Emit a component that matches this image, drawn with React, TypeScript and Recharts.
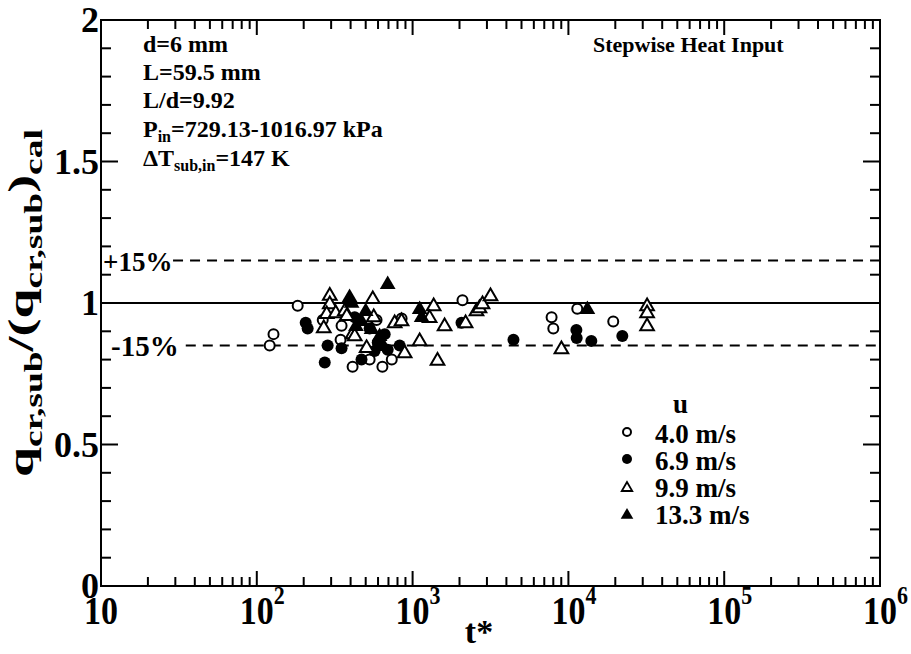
import React from "react";
import {
  ScatterChart,
  Scatter,
  XAxis,
  YAxis,
  ReferenceLine,
  ReferenceArea,
} from "recharts";

// t* values and q ratio for each velocity
const t40 = [121, 128, 183, 265, 350, 345, 412, 530, 640, 735, 587, 850, 2090, 7800, 8000, 11400, 19400];
const q40 = [0.85, 0.89, 0.99, 0.94, 0.92, 0.87, 0.775, 0.8, 0.775, 0.8, 0.94, 0.945, 1.01, 0.95, 0.91, 0.98, 0.935];

const t69 = [206, 212, 285, 350, 273, 470, 425, 530, 597, 570, 662, 692, 826, 2060, 4440, 11250, 11300, 14030, 22180];
const q69 = [0.93, 0.91, 0.85, 0.84, 0.79, 0.8, 0.95, 0.91, 0.86, 0.83, 0.89, 0.835, 0.85, 0.93, 0.87, 0.905, 0.876, 0.866, 0.883];

const t99 = [294, 294, 281, 321, 269, 367, 412, 555, 563, 378, 425, 507, 767, 849, 889, 1110, 1365, 1286, 1445, 1604, 2188, 2570, 2686, 2810, 3162, 9020, 32000, 32000, 32000];
const q99 = [1.03, 1.0, 0.965, 0.968, 0.915, 0.975, 0.894, 1.018, 0.954, 0.958, 0.887, 0.845, 0.933, 0.94, 0.827, 0.869, 0.993, 0.951, 0.8, 0.922, 0.933, 0.975, 0.986, 1.0, 1.028, 0.841, 0.993, 0.968, 0.922];

const t133 = [394, 406, 692, 1110, 1143, 13240, 469, 545, 614, 500, 650, 433];
const q133 = [1.025, 1.004, 1.071, 0.982, 0.954, 0.982, 0.94, 0.912, 0.887, 0.975, 0.852, 0.922];

const decades = [10, 100, 1000, 10000, 100000, 1000000];
const decadeExp = ["", "2", "3", "4", "5", "6"];
const minorSteps = [2, 3, 4, 5, 6, 7, 8, 9];
const yTicks = [0, 0.1, 0.2, 0.3, 0.4, 0.5, 0.6, 0.7, 0.8, 0.9, 1, 1.1, 1.2, 1.3, 1.4, 1.5, 1.6, 1.7, 1.8, 1.9, 2];
const yMajor = [0, 0.5, 1, 1.5, 2];
const yLabels = ["0", "0.5", "1", "1.5", "2"];
const legendItems = ["4.0 m/s", "6.9 m/s", "9.9 m/s", "13.3 m/s"];

const xTicks: number[] = [];
decades.forEach((d, i) => {
  xTicks.push(d);
  if (i < decades.length - 1) minorSteps.forEach((m) => xTicks.push(d * m));
});

const zip = (t: number[], q: number[]) => t.map((v, i) => ({ t: v, q: q[i] }));
const d40 = zip(t40, q40);
const d69 = zip(t69, q69);
const d99 = zip(t99, q99);
const d133 = zip(t133, q133);

const W = 911;
const H = 654;
const LEFT = 101;
const RIGHT = 880;
const TOP = 20;
const BOTTOM = 586;
const PW = RIGHT - LEFT;
const PH = BOTTOM - TOP;
const FONT = "'Liberation Serif', 'Times New Roman', serif";

const OpenCircle = (p: any) => (
  <circle cx={p.cx} cy={p.cy} r={5} fill="#fff" stroke="#000" strokeWidth={2} />
);
const FilledCircle = (p: any) => <circle cx={p.cx} cy={p.cy} r={6} fill="#000" />;
const tri = (cx: number, cy: number, s: number) =>
  `${cx},${cy - s} ${cx - s * 1.05},${cy + s * 0.8} ${cx + s * 1.05},${cy + s * 0.8}`;
const OpenTri = (p: any) => (
  <polygon points={tri(p.cx, p.cy, 6.5)} fill="#fff" stroke="#000" strokeWidth={2} strokeLinejoin="miter" />
);
const FilledTri = (p: any) => <polygon points={tri(p.cx, p.cy, 7.5)} fill="#000" />;

const XTick = (props: any) => {
  const { x, y, payload } = props;
  const v = payload.value;
  const idx = decades.findIndex((d) => Math.abs(d - v) < 1e-6 * d);
  const major = idx >= 0;
  const len = major ? 15 : 9;
  return (
    <g>
      <line x1={x} y1={y} x2={x} y2={y - len} stroke="#000" strokeWidth={2} />
      <line x1={x} y1={y - PH} x2={x} y2={y - PH + len} stroke="#000" strokeWidth={2} />
      {major && (
        <g transform={`translate(${x},${y + 38}) scale(1,1.15)`}>
          <text x={0} y={0} textAnchor="middle" fontFamily={FONT} fontWeight="bold" fontSize={34} fill="#000">
            10
          </text>
          {decadeExp[idx] && (
            <text x={17} y={-17} fontFamily={FONT} fontWeight="bold" fontSize={22} fill="#000">
              {decadeExp[idx]}
            </text>
          )}
        </g>
      )}
    </g>
  );
};

const YTick = (props: any) => {
  const { x, y, payload } = props;
  const v = payload.value;
  const idx = yMajor.findIndex((m) => Math.abs(m - v) < 1e-6);
  const major = idx >= 0;
  const len = major ? 17 : 10;
  return (
    <g>
      <line x1={x} y1={y} x2={x + len} y2={y} stroke="#000" strokeWidth={2} />
      <line x1={x + PW} y1={y} x2={x + PW - len} y2={y} stroke="#000" strokeWidth={2} />
      {major && (
        <text x={x - 2} y={y + 12} textAnchor="end" fontFamily={FONT} fontWeight="bold" fontSize={36} fill="#000">
          {yLabels[idx]}
        </text>
      )}
    </g>
  );
};

const txt = { fontFamily: FONT, fontWeight: "bold" as const, fill: "#000" };

export default function App() {
  return (
    <div style={{ position: "absolute", left: 0, top: 0, width: W, height: H, background: "#fff" }}>
      <ScatterChart
        width={W}
        height={H}
        margin={{ top: TOP, right: W - RIGHT, bottom: 8, left: LEFT - 60 }}
      >
        <XAxis
          dataKey="t"
          type="number"
          scale="log"
          domain={[10, 1000000]}
          allowDataOverflow
          ticks={xTicks}
          interval={0}
          tick={<XTick />}
          tickLine={false}
          tickSize={0}
          tickMargin={0}
          height={H - 8 - BOTTOM}
          axisLine={{ stroke: "#000", strokeWidth: 2 }}
        />
        <YAxis
          dataKey="q"
          type="number"
          domain={[0, 2]}
          allowDataOverflow
          ticks={yTicks}
          interval={0}
          tick={<YTick />}
          tickLine={false}
          tickSize={0}
          tickMargin={0}
          width={60}
          axisLine={{ stroke: "#000", strokeWidth: 2 }}
        />
        <ReferenceArea x1={10} x2={1000000} y1={0} y2={2} fill="none" fillOpacity={0} stroke="#000" strokeWidth={2} />
        <ReferenceLine y={1} stroke="#000" strokeWidth={2} />
        <ReferenceLine
          segment={[{ x: 29, y: 1.15 }, { x: 1000000, y: 1.15 }]}
          stroke="#000"
          strokeWidth={2}
          strokeDasharray="10 7"
        />
        <ReferenceLine
          segment={[{ x: 35, y: 0.85 }, { x: 1000000, y: 0.85 }]}
          stroke="#000"
          strokeWidth={2}
          strokeDasharray="10 7"
        />
        <Scatter data={d40} shape={OpenCircle} isAnimationActive={false} />
        <Scatter data={d69} shape={FilledCircle} isAnimationActive={false} />
        <Scatter data={d99} shape={OpenTri} isAnimationActive={false} />
        <Scatter data={d133} shape={FilledTri} isAnimationActive={false} />
      </ScatterChart>
      <svg
        width={W}
        height={H}
        style={{ position: "absolute", left: 0, top: 0, pointerEvents: "none" }}
      >
        {/* axis titles */}
        <text {...txt} transform="translate(33,303) rotate(-90) scale(1.5,1)" textAnchor="middle" fontSize={36}>
          q<tspan fontSize={25} dy={9}>cr,sub</tspan>
          <tspan dy={-9}>/(q</tspan>
          <tspan fontSize={25} dy={9}>cr,sub</tspan>
          <tspan dy={-9}>)</tspan>
          <tspan fontSize={25} dy={9}>cal</tspan>
        </text>
        <text {...txt} x={479} y={643} textAnchor="middle" fontSize={34}>
          t*
        </text>

        {/* band labels */}
        <text {...txt} x={103} y={271} fontSize={27}>+15%</text>
        <text {...txt} x={111} y={356} fontSize={29}>-15%</text>

        {/* conditions */}
        <g {...txt} fontSize={24}>
          <text x={143} y={52}>d=6 mm</text>
          <text x={143} y={80}>L=59.5 mm</text>
          <text x={143} y={108}>L/d=9.92</text>
          <text x={143} y={137}>
            P<tspan fontSize={16} dy={5}>in</tspan>
            <tspan dy={-5}>=729.13-1016.97 kPa</tspan>
          </text>
          <text x={143} y={166}>
            ΔT<tspan fontSize={16} dy={5}>sub,in</tspan>
            <tspan dy={-5}>=147 K</tspan>
          </text>
        </g>
        <text {...txt} x={593} y={52} fontSize={22}>Stepwise Heat Input</text>

        {/* legend */}
        <g {...txt} fontSize={27}>
          <text x={673} y={413}>u</text>
          {legendItems.map((s, i) => (
            <text key={s} x={655} y={443 + i * 27}>{s}</text>
          ))}
        </g>
        <circle cx={627} cy={432} r={4} fill="#fff" stroke="#000" strokeWidth={2} />
        <circle cx={627} cy={459} r={5} fill="#000" />
        <polygon points={tri(627, 487, 5)} fill="#fff" stroke="#000" strokeWidth={1.8} />
        <polygon points={tri(627, 514, 6)} fill="#000" />
      </svg>
    </div>
  );
}
